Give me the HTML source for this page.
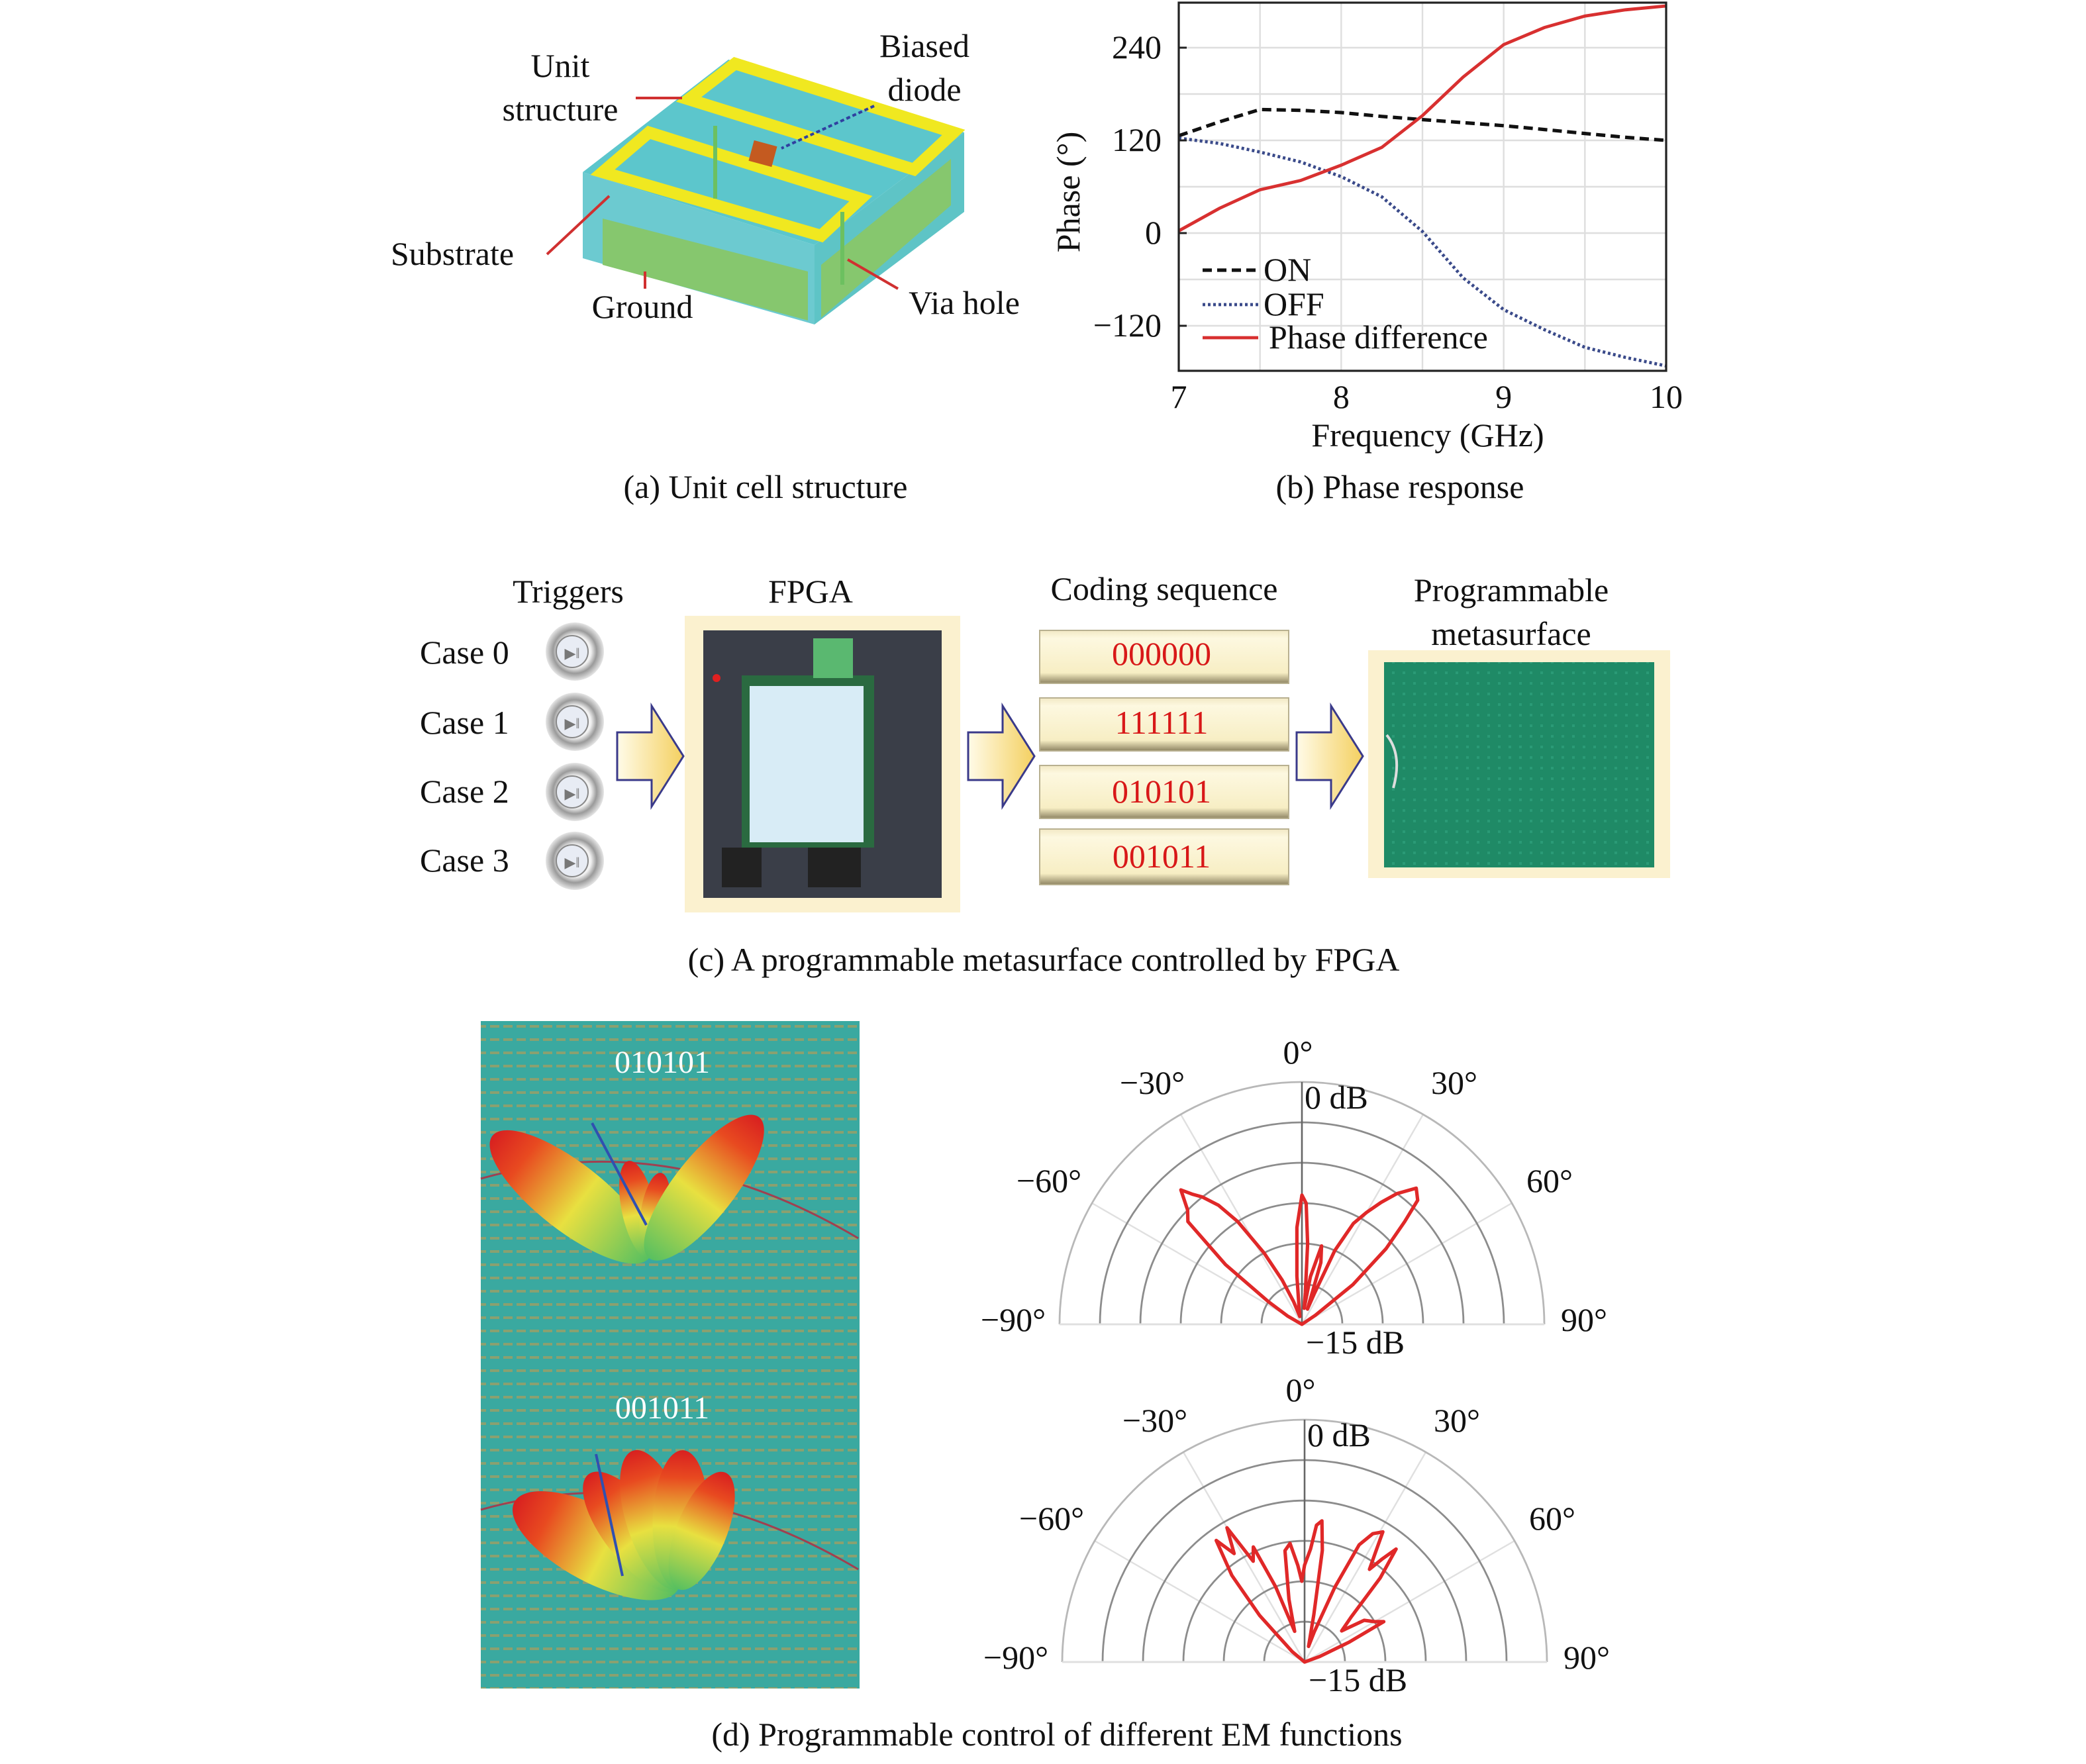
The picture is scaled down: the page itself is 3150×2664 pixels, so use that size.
<!DOCTYPE html>
<html><head><meta charset="utf-8">
<style>
html,body{margin:0;padding:0;background:#fff;}
svg{display:block;}
text{font-family:"Liberation Serif",serif;}
</style></head>
<body>
<svg id="fig" width="3150" height="2664" viewBox="0 0 1575 1332" xmlns="http://www.w3.org/2000/svg" fill="#111">
<defs>
  <linearGradient id="arrowG" x1="0" x2="1" y1="0" y2="0"><stop offset="0" stop-color="#fffbe8"/><stop offset="1" stop-color="#f4d060"/></linearGradient>
  <linearGradient id="codeG" x1="0" x2="0" y1="0" y2="1"><stop offset="0" stop-color="#f2e8c4"/><stop offset="0.15" stop-color="#fdf8e0"/><stop offset="0.8" stop-color="#f7eec4"/><stop offset="1" stop-color="#8e8462"/></linearGradient>
  <linearGradient id="lobeG" x1="0" x2="1" y1="0" y2="0"><stop offset="0" stop-color="#58c060"/><stop offset="0.45" stop-color="#e8e040"/><stop offset="0.8" stop-color="#e84a20"/><stop offset="1" stop-color="#d82020"/></linearGradient>
  <radialGradient id="btnG" cx="0.5" cy="0.5" r="0.5"><stop offset="0.55" stop-color="#f2f2f2"/><stop offset="0.75" stop-color="#9a9a9a"/><stop offset="1" stop-color="#e6e6e6"/></radialGradient>
  <pattern id="meta" width="8" height="8" patternUnits="userSpaceOnUse"><rect width="8" height="8" fill="#1f8a66"/><rect x="3" y="3" width="2" height="2" fill="#2a9a76"/></pattern>
  <pattern id="metaD" width="10" height="10" patternUnits="userSpaceOnUse"><rect width="10" height="10" fill="#3aa9a0"/><rect x="0" y="4" width="7" height="2" fill="#8aa070"/></pattern>
</defs>

<!-- ===== Panel (a) unit cell ===== -->
<g>
  <polygon points="440,130 550,45 728,100 615,185" fill="#5cc6cc"/>
  <polygon points="440,130 615,185 615,245 440,195" fill="#6ccad0"/>
  <polygon points="615,185 728,100 728,160 615,245" fill="#5ec4c6"/>
  <polygon points="455,165 610,205 610,242 455,200" fill="#86c76e"/>
  <polygon points="620,200 718,120 718,155 620,240" fill="#86c76e"/>
  <polygon points="520,75 555,48 720,100 690,128" fill="none" stroke="#f0e820" stroke-width="9"/>
  <polygon points="455,130 490,100 650,150 620,178" fill="none" stroke="#f0e820" stroke-width="9"/>
  <rect x="567" y="108" width="18" height="16" fill="#c45a20" transform="rotate(15 576 116)"/>
  <line x1="540" y1="95" x2="540" y2="150" stroke="#6cc060" stroke-width="3"/>
  <line x1="636" y1="160" x2="636" y2="215" stroke="#6cc060" stroke-width="3"/>
</g>
<g font-size="25">
  <text x="423" y="58" text-anchor="middle">Unit</text>
  <text x="423" y="91" text-anchor="middle">structure</text>
  <text x="698" y="43" text-anchor="middle">Biased</text>
  <text x="698" y="76" text-anchor="middle">diode</text>
  <text x="295" y="200">Substrate</text>
  <text x="485" y="240" text-anchor="middle">Ground</text>
  <text x="728" y="237" text-anchor="middle">Via hole</text>
  <line x1="480" y1="74" x2="515" y2="74" stroke="#d03030" stroke-width="2"/>
  <line x1="660" y1="80" x2="590" y2="112" stroke="#3040a0" stroke-width="2" stroke-dasharray="3,2"/>
  <line x1="413" y1="192" x2="460" y2="148" stroke="#d03030" stroke-width="2"/>
  <line x1="487" y1="218" x2="487" y2="205" stroke="#d03030" stroke-width="2"/>
  <line x1="678" y1="218" x2="640" y2="196" stroke="#d03030" stroke-width="2"/>
  <text x="578" y="376" text-anchor="middle">(a) Unit cell structure</text>
</g>

<!-- ===== Panel (b) phase chart ===== -->
<g id="phase"></g>
<g><text x="1057" y="376" font-size="25" text-anchor="middle">(b) Phase response</text></g>

<!-- ===== Panel (c) ===== -->
<g font-size="25">
  <text x="429" y="455" text-anchor="middle">Triggers</text>
  <text x="612" y="455" text-anchor="middle">FPGA</text>
  <text x="879" y="453" text-anchor="middle">Coding sequence</text>
  <text x="1141" y="454" text-anchor="middle">Programmable</text>
  <text x="1141" y="487" text-anchor="middle">metasurface</text>
  <g><text x="317" y="501">Case 0</text><circle cx="434" cy="492" r="22" fill="url(#btnG)"/><circle cx="432" cy="492" r="12" fill="#e8ecf4" stroke="#888"/><text x="432" y="497" font-size="11" text-anchor="middle" fill="#777">▶‖</text></g>
  <g><text x="317" y="554">Case 1</text><circle cx="434" cy="545" r="22" fill="url(#btnG)"/><circle cx="432" cy="545" r="12" fill="#e8ecf4" stroke="#888"/><text x="432" y="550" font-size="11" text-anchor="middle" fill="#777">▶‖</text></g>
  <g><text x="317" y="606">Case 2</text><circle cx="434" cy="598" r="22" fill="url(#btnG)"/><circle cx="432" cy="598" r="12" fill="#e8ecf4" stroke="#888"/><text x="432" y="603" font-size="11" text-anchor="middle" fill="#777">▶‖</text></g>
  <g><text x="317" y="658">Case 3</text><circle cx="434" cy="650" r="22" fill="url(#btnG)"/><circle cx="432" cy="650" r="12" fill="#e8ecf4" stroke="#888"/><text x="432" y="655" font-size="11" text-anchor="middle" fill="#777">▶‖</text></g>
  <polygon points="466,553 492,553 492,533 516,571 492,609 492,589 466,589" fill="url(#arrowG)" stroke="#3a3a8a" stroke-width="1.5"/>
  <polygon points="731,553 757,553 757,533 781,571 757,609 757,589 731,589" fill="url(#arrowG)" stroke="#3a3a8a" stroke-width="1.5"/>
  <polygon points="979,553 1005,553 1005,533 1029,571 1005,609 1005,589 979,589" fill="url(#arrowG)" stroke="#3a3a8a" stroke-width="1.5"/>
  <g>
    <rect x="517" y="465" width="208" height="224" fill="#fbf1cf"/>
    <rect x="531" y="476" width="180" height="202" fill="#3a3e48"/>
    <rect x="560" y="510" width="100" height="130" fill="#2a6a40"/>
    <rect x="566" y="518" width="86" height="118" fill="#d8ecf6"/>
    <rect x="614" y="482" width="30" height="30" fill="#5ab870"/>
    <rect x="545" y="640" width="30" height="30" fill="#222"/>
    <rect x="610" y="640" width="40" height="30" fill="#222"/>
    <circle cx="541" cy="512" r="3" fill="#e02020"/>
  </g>
  <g><rect x="785" y="476" width="188" height="40" fill="url(#codeG)" stroke="#b8b090"/><text x="877" y="502" fill="#d81818" text-anchor="middle">000000</text></g>
  <g><rect x="785" y="527" width="188" height="40" fill="url(#codeG)" stroke="#b8b090"/><text x="877" y="554" fill="#d81818" text-anchor="middle">111111</text></g>
  <g><rect x="785" y="578" width="188" height="40" fill="url(#codeG)" stroke="#b8b090"/><text x="877" y="606" fill="#d81818" text-anchor="middle">010101</text></g>
  <g><rect x="785" y="626" width="188" height="42" fill="url(#codeG)" stroke="#b8b090"/><text x="877" y="655" fill="#d81818" text-anchor="middle">001011</text></g>
  <g>
    <rect x="1033" y="491" width="228" height="172" fill="#fbf1cf"/>
    <rect x="1045" y="500" width="204" height="155" fill="url(#meta)"/>
    <path d="M1047,555 q12,15 5,40" stroke="#ddd" stroke-width="2" fill="none"/>
  </g>
  <text x="788" y="733" text-anchor="middle">(c) A programmable metasurface controlled by FPGA</text>
</g>

<!-- ===== Panel (d) left image ===== -->
<g>
  <rect x="363" y="771" width="286" height="504" fill="url(#metaD)"/>
  <path d="M363,890 Q505,850 648,935" stroke="#a04050" stroke-width="1.5" fill="none"/>
  <path d="M363,1140 Q505,1100 648,1185" stroke="#a04050" stroke-width="1.5" fill="none"/>
  <g id="lobesTop"></g>
  <g id="lobesBot"></g>
  <line x1="488" y1="925" x2="447" y2="848" stroke="#3050b0" stroke-width="2"/>
  <line x1="470" y1="1190" x2="450" y2="1098" stroke="#3050b0" stroke-width="2"/>
  <text x="500" y="810" font-size="24" text-anchor="middle" fill="#fff">010101</text>
  <text x="500" y="1071" font-size="24" text-anchor="middle" fill="#fff">001011</text>
</g>
<g id="polarTop"></g>
<g id="polarBot"></g>
<g><text x="798" y="1318" font-size="25" text-anchor="middle">(d) Programmable control of different EM functions</text></g>
</svg>

<script>
// ---- Phase response data ----
const freqs = [7, 7.25, 7.5, 7.75, 8, 8.25, 8.5, 8.75, 9, 9.25, 9.5, 9.75, 10];
const onPhase = [126, 144, 160, 159, 156, 151, 147, 143, 139, 134, 129, 124, 120];
const offPhase = [123, 116, 105, 92, 73, 47, 2, -58, -99, -125, -148, -161, -172];
const diffPhase = [3, 32, 56, 68, 88, 111, 152, 202, 244, 266, 281, 289, 294];
const xTicks = [7, 8, 9, 10];
const yTicks = [-120, 0, 120, 240];
const yGrid = [-120, -60, 0, 60, 120, 180, 240];
const xGrid = [7.5, 8, 8.5, 9, 9.5];

// ---- Polar data (dB vs angle) ----
const topAngles = [-90,-70,-60,-56,-52,-48,-45,-42,-40,-38,-35,-32,-28,-24,-20,-15,-10,-6,-3,0,2,4,6,8,10,14,17,20,22,24,27,30,33,36,40,43,45,48,52,56,60,70,90];
const topDb = [-15,-15,-14,-12.5,-9,-5.5,-5,-3.8,-4.5,-5,-6,-7.5,-10,-12,-13.5,-14.5,-14,-12,-9,-7,-7.5,-10,-13,-14,-12,-10,-11,-14,-13,-10,-8,-7,-6,-5,-4,-4.5,-6,-8,-11,-14,-15,-15,-15];
const botAngles = [-90,-60,-50,-44,-40,-36,-33,-30,-27,-24,-21,-18,-14,-10,-7,-4,-2,0,3,5,7,9,11,14,18,22,25,28,31,33,35,37,39,42,46,50,55,60,63,66,70,90];
const botDb = [-15,-15,-14,-11,-8,-5.7,-7,-5.4,-8,-7.2,-10,-13,-11,-8,-7.6,-9,-10,-9,-8,-6.5,-6.2,-8,-12,-14,-13,-10,-7,-6,-5.6,-7,-8,-7,-6,-8,-11,-12,-10.5,-10,-9.5,-12,-14,-15];
const ringDb = [-12.5, -10, -7.5, -5, -2.5, 0];
const spokeAngles = [-60, -30, 30, 60];
const angleLabels = ["-90°", "-60°", "-30°", "0°", "30°", "60°", "90°"];

// ---- 3D beam lobes (direction from vertical in degrees, relative length) ----
const topLobeDirs = [-52, -12, 8, 38];
const topLobeLens = [150, 75, 65, 135];
const botLobeDirs = [-62, -38, -18, 2, 22];
const botLobeLens = [140, 110, 110, 105, 95];

const NS = "http://www.w3.org/2000/svg";
function mk(parent, tag, attrs, txt) {
  const e = document.createElementNS(NS, tag);
  for (const k in attrs) e.setAttribute(k, attrs[k]);
  if (txt !== undefined) e.textContent = txt;
  parent.appendChild(e);
  return e;
}

function lobes(id, bx, by, dirs, lens, wScale) {
  const g = document.getElementById(id);
  dirs.forEach((a, i) => {
    const L = lens[i];
    const r = a * Math.PI / 180;
    const cx = bx + Math.sin(r) * L / 2, cy = by - Math.cos(r) * L / 2;
    const e = mk(g, 'ellipse', {cx: cx, cy: cy, rx: L / 2, ry: L * wScale, fill: 'url(#lobeG)',
      transform: `rotate(${a - 90} ${cx} ${cy})`});
    
    
  });
}
lobes('lobesTop', 490, 950, topLobeDirs, topLobeLens, 0.17);
lobes('lobesBot', 512, 1200, botLobeDirs, botLobeLens, 0.2);

// ---- Phase chart ----
(function () {
  const g = document.getElementById('phase');
  const L = 890, R = 1258, T = 2, B = 280;
  const xs = f => L + (f - 7) / 3 * (R - L);
  const ys = v => 176 - v * 70 / 120;
  mk(g, 'rect', {x: L, y: T, width: R - L, height: B - T, fill: '#fff'});
  for (const v of yGrid) {
    const l = mk(g, 'line', {x1: L, x2: R, y1: ys(v), y2: ys(v), stroke: '#dedede', 'stroke-width': 1.2});
    
    
  }
  for (const f of xGrid) {
    const l = mk(g, 'line', {x1: xs(f), x2: xs(f), y1: T, y2: B, stroke: '#dedede', 'stroke-width': 1.2});
    
    
  }
  function line(vals, attrs, name) {
    const d = vals.map((v, i) => (i ? 'L' : 'M') + xs(freqs[i]).toFixed(1) + ',' + ys(v).toFixed(1)).join(' ');
    const p = mk(g, 'path', Object.assign({d: d, fill: 'none'}, attrs));
    
    
  }
  line(onPhase, {stroke: '#111', 'stroke-width': 2.6, 'stroke-dasharray': '7,4'}, 'on-series');
  line(offPhase, {stroke: '#3a4a8a', 'stroke-width': 2.4, 'stroke-dasharray': '2,2'}, 'off-series');
  line(diffPhase, {stroke: '#d83030', 'stroke-width': 2.4}, 'phase-difference-series');
  const fr = mk(g, 'rect', {x: L, y: T, width: R - L, height: B - T, fill: 'none', stroke: '#222', 'stroke-width': 1.6});
  
  
  for (const t of xTicks) {
    const e = mk(g, 'text', {x: xs(t), y: 308, 'font-size': 25, 'text-anchor': 'middle'}, String(t));
    
    
  }
  for (const t of yTicks) {
    mk(g, 'line', {x1: L, x2: L + 6, y1: ys(t), y2: ys(t), stroke: '#222', 'stroke-width': 1.5});
    const e = mk(g, 'text', {x: 877, y: ys(t) + 8, 'font-size': 25, 'text-anchor': 'end'}, t < 0 ? '−' + (-t) : String(t));
    
    
  }
  const xt = mk(g, 'text', {x: 1078, y: 337, 'font-size': 25, 'text-anchor': 'middle'}, 'Frequency (GHz)');
  
  
  const yt = mk(g, 'text', {x: 0, y: 0, 'font-size': 25, 'text-anchor': 'middle', transform: 'translate(815,145) rotate(-90)'}, 'Phase (°)');
  
  
  const leg = [['ON', {stroke: '#111', 'stroke-dasharray': '7,4', 'stroke-width': 2.6}, 212],
               ['OFF', {stroke: '#3a4a8a', 'stroke-dasharray': '2,2', 'stroke-width': 2.4}, 238],
               ['Phase difference', {stroke: '#d83030', 'stroke-width': 2.4}, 263]];
  for (const [lab, st, y] of leg) {
    const lg = mk(g, 'g', {});
    
    
    mk(lg, 'line', Object.assign({x1: 908, x2: 950, y1: y - 8, y2: y - 8}, st));
    mk(lg, 'text', {x: lab === 'Phase difference' ? 958 : 954, y: y, 'font-size': 25}, lab);
  }
})();

// ---- Polar plots ----
function polar(id, cx, cy, angles, dbs) {
  const g = document.getElementById(id);
  const R = 183;
  const rs = db => (db + 15) / 15 * R;
  const pt = (a, r) => [cx + r * Math.sin(a * Math.PI / 180), cy - r * Math.cos(a * Math.PI / 180)];
  for (const s of spokeAngles) {
    const [x, y] = pt(s, R);
    mk(g, 'line', {x1: cx, y1: cy, x2: x, y2: y, stroke: '#e0e0e0', 'stroke-width': 1.2});
  }
  for (const db of ringDb) {
    const r = rs(db);
    const c = mk(g, 'path', {d: `M${cx - r},${cy} A${r},${r} 0 0 1 ${cx + r},${cy}`, fill: 'none', stroke: db === 0 ? '#b8b8b8' : '#8c8c8c', 'stroke-width': 1.4});
    
    
  }
  mk(g, 'line', {x1: cx - R, y1: cy, x2: cx + R, y2: cy, stroke: '#e0e0e0', 'stroke-width': 1.5});
  mk(g, 'line', {x1: cx, y1: cy, x2: cx, y2: cy - R, stroke: '#666', 'stroke-width': 1.3});
  const d = angles.map((a, i) => {
    const [x, y] = pt(a, rs(dbs[i]));
    return (i ? 'L' : 'M') + x.toFixed(1) + ',' + y.toFixed(1);
  }).join(' ') + ' Z';
  const p = mk(g, 'path', {d: d, fill: 'none', stroke: '#e02828', 'stroke-width': 2.6, 'stroke-linejoin': 'round'});
  
  
  const pos = [[-218, 5], [-191, -100], [-113, -174], [-3, -197], [115, -174], [187, -100], [213, 5]];
  angleLabels.forEach((lab, i) => {
    const t = mk(g, 'text', {x: cx + pos[i][0], y: cy + pos[i][1], 'font-size': 25, 'text-anchor': 'middle'}, lab.replace('-', '−'));
    
    
  });
  const t0 = mk(g, 'text', {x: cx + 2, y: cy - 163, 'font-size': 25}, '0 dB');
  
  
  const t1 = mk(g, 'text', {x: cx + 3, y: cy + 22, 'font-size': 25}, '−15 dB');
  
  
}
polar('polarTop', 983, 1000, topAngles, topDb);
polar('polarBot', 985, 1255, botAngles, botDb);
</script>
</body></html>
